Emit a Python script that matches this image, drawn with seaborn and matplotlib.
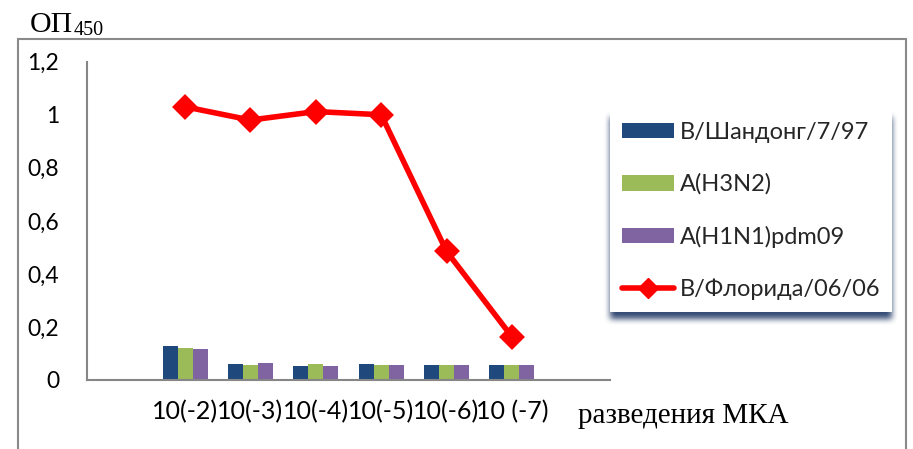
import numpy as np
import pandas as pd
import matplotlib
matplotlib.use("Agg")
import matplotlib.pyplot as plt
import seaborn as sns
from matplotlib.patches import Patch, Rectangle
from matplotlib.lines import Line2D
from matplotlib.colors import to_rgb
from matplotlib.ticker import NullFormatter

# ---- data -------------------------------------------------------------
dilutions = ["10(-2)", "10(-3)", "10(-4)", "10(-5)", "10(-6)", "10 (-7)"]
shandong = [0.130, 0.060, 0.053, 0.061, 0.058, 0.056]
h3n2 = [0.122, 0.056, 0.061, 0.055, 0.057, 0.056]
h1n1 = [0.117, 0.063, 0.054, 0.055, 0.057, 0.057]
florida = [1.030, 0.980, 1.012, 1.000, 0.485, 0.163]

bar_series = ["B/Шандонг/7/97", "A(H3N2)", "A(H1N1)pdm09"]
line_series = "B/Флорида/06/06"
y_ticks = [0, 0.2, 0.4, 0.6, 0.8, 1.0, 1.2]
y_tick_labels = ["0", "0,2", "0,4", "0,6", "0,8", "1", "1,2"]
x_title = "разведения МКА"
y_title = "ОП"
y_title_sub = "450"

# ---- style ------------------------------------------------------------
bar_colors = ["#1f497d", "#9bbb59", "#8064a2"]
line_color = "#ff0000"
axis_gray = "#868686"

sns.set_theme(style="white")
plt.rcParams["font.family"] = ["Lato", "DejaVu Sans"]

W, H = 913, 449
fig = plt.figure(figsize=(W / 100, H / 100), dpi=100)
fig.patch.set_facecolor("white")
ax = fig.add_axes([87 / W, 1 - 380 / H, 523 / W, 318.3 / H])
ax.set_facecolor("white")

# one empty slot on each side of the dilution series
slots = [" "] + dilutions + ["  "]

bars = pd.DataFrame({
    "dilution": dilutions * len(bar_series),
    "od": shandong + h3n2 + h1n1,
    "strain": np.repeat(bar_series, len(dilutions)),
})
sns.barplot(data=bars, x="dilution", y="od", hue="strain", order=slots,
            hue_order=bar_series, palette=dict(zip(bar_series, bar_colors)),
            width=0.69, saturation=1, legend=False, ax=ax, zorder=2,
            edgecolor="none", linewidth=0)

line = pd.DataFrame({"dilution": dilutions, "od": florida})
sns.pointplot(data=line, x="dilution", y="od", order=slots, color=line_color,
              markers="D", markersize=10, linewidth=4, errorbar=None, ax=ax,
              zorder=3)

# ---- axes -------------------------------------------------------------
ax.set_xlim(-0.5, len(slots) - 0.5)
ax.set_ylim(0, 1.2)
ax.set_xlabel("")
ax.set_ylabel("")
ax.set_yticks(y_ticks, y_tick_labels)
ax.set_xticks(np.arange(-0.5, len(slots)))
ax.xaxis.set_major_formatter(NullFormatter())
ax.set_xticks(range(len(slots)), slots, minor=True)
ax.tick_params(axis="x", which="major", length=8, width=1.5, color=axis_gray,
               direction="out")
ax.tick_params(axis="x", which="minor", length=0, pad=14.5, labelsize=18,
               labelcolor="black")
ax.tick_params(axis="y", length=8, width=1.5, color=axis_gray, direction="out",
               pad=12, labelsize=16.5, labelcolor="black")
for s in ("top", "right"):
    ax.spines[s].set_visible(False)
for s in ("left", "bottom"):
    ax.spines[s].set_color(axis_gray)
    ax.spines[s].set_linewidth(1.5)
ax.grid(False)

# ---- titles -----------------------------------------------------------
fig.text(578 / W, 1 - 423 / H, x_title, va="baseline", ha="left",
         family="Liberation Serif", fontsize=21, color="black")
t = fig.text(30 / W, 1 - 32 / H, y_title, va="baseline", ha="left",
             family="Liberation Serif", fontsize=21.5, color="black")
fig.canvas.draw()
tb = t.get_window_extent()
fig.text((tb.x1 + 1) / W, 1 - 35 / H, y_title_sub, va="baseline", ha="left",
         family="Liberation Serif", fontsize=14.5, color="black")

# outer frame
fig.add_artist(Rectangle((18 / W, -0.2), (906 - 18) / W, 1.2 - 39 / H,
                         transform=fig.transFigure, fill=False,
                         edgecolor="#8a8a8a", linewidth=1.5, zorder=1))

# ---- legend -----------------------------------------------------------
handles = [Patch(facecolor=c, edgecolor="none") for c in bar_colors]
handles.append(Line2D([], [], color=line_color, lw=4, marker="D",
                      markersize=10))
labels = bar_series + [line_series]
leg = fig.legend(handles, labels, loc="upper left",
                 bbox_to_anchor=(610 / W, 1 - 110 / H), borderaxespad=0,
                 fontsize=17, handlelength=2.2, handleheight=0.64,
                 handletextpad=0.25, labelspacing=1.3, borderpad=0.5,
                 frameon=True, fancybox=False)
leg.set_zorder(5)
leg.get_frame().set_facecolor("white")
leg.get_frame().set_edgecolor("none")
leg.get_frame().set_alpha(1)

# soft navy drop shadow under the legend box
fig.canvas.draw()
bb = leg.get_window_extent()
pad = 16
bw, bh = int(round(bb.width)), int(round(bb.height))
w, h = bw + 2 * pad, bh + 2 * pad
mask = np.zeros((h, w))
drop = 7
mask[pad + drop:pad + drop + bh, pad:pad + bw] = 1.0
k = np.ones(7) / 7
for _ in range(2):
    mask = np.apply_along_axis(lambda r: np.convolve(r, k, mode="same"), 0, mask)
    mask = np.apply_along_axis(lambda r: np.convolve(r, k, mode="same"), 1, mask)
rgba = np.zeros((h, w, 4))
rgba[..., :3] = to_rgb("#1f3864")
rgba[..., 3] = np.clip(mask, 0, 1) * 0.9
fig.figimage(rgba, xo=int(round(bb.x0)) - pad, yo=int(round(bb.y0)) - pad,
             zorder=4, origin="upper")

fig.savefig("out.png", dpi=100, facecolor="white")
